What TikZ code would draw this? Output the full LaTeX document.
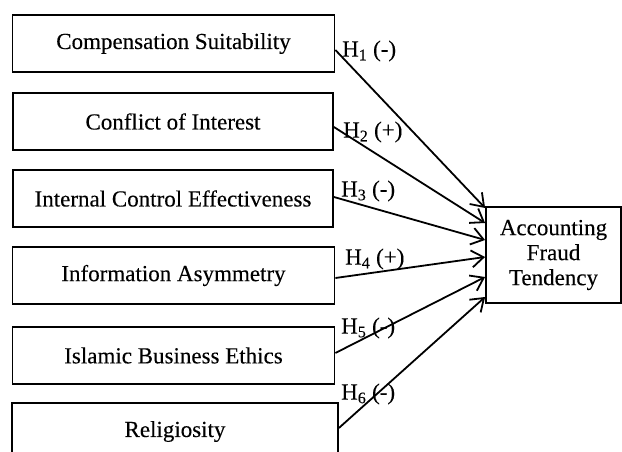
\documentclass[tikz,border=0pt]{standalone}
\usepackage{fontspec}
\setmainfont{Liberation Serif}[UprightFeatures={FakeBold=0.2}]
\usetikzlibrary{arrows.meta}
\begin{document}
\begin{tikzpicture}[x=1pt,y=-1pt,
  box/.style={draw,line width=1.8pt,inner sep=0pt,align=center,
    font=\fontsize{23}{25}\selectfont},
  lbox/.style={box,minimum width=322pt,minimum height=57pt},
  arr/.style={line width=1.8pt,-{Straight Barb[length=12pt,width=17pt,line width=1.8pt]}},
  hlab/.style={anchor=west,inner sep=0pt,font=\fontsize{23}{24}\selectfont}]
\useasboundingbox (0,0) rectangle (622,452);
\node[lbox] (c1) at (173.5,43.5) {Compensation Suitability};
\node[lbox,minimum width=320pt] (c2) at (173,121.5) {Conflict of Interest};
\node[lbox,minimum width=320pt] (c3) at (173,198.5) {Internal Control Effectiveness};
\node[lbox] (c4) at (173.5,275.5) {Information Asymmetry};
\node[lbox] (c5) at (173.5,355.5) {Islamic Business Ethics};
\node[lbox,minimum width=326pt] (c6) at (175,431.5) {Religiosity};
\node[box,minimum width=135pt,minimum height=96pt] (f) at (553.5,255) {\rule{0pt}{6pt}Accounting\\Fraud\\Tendency};
\draw[arr] ([yshift=-6.5pt]c1.east) -- ([yshift=47pt]f.west);
\draw[arr] ([yshift=-5.5pt]c2.east) -- ([yshift=32pt]f.west);
\draw[arr] ([yshift=1.5pt]c3.east) -- ([yshift=15pt]f.west);
\draw[arr] ([yshift=-2.5pt]c4.east) -- ([yshift=-2pt]f.west);
\draw[arr] ([yshift=2.5pt]c5.east) -- ([yshift=-22pt]f.west);
\draw[arr] ([yshift=3.5pt]c6.east) -- ([yshift=-42pt]f.west);
\node[hlab] (h1) at (342,51) {H\textsubscript{1} (-)};
\node[hlab] (h2) at (343,132) {H\textsubscript{2} (+)};
\node[hlab] (h3) at (341,191) {H\textsubscript{3} (-)};
\node[hlab] (h4) at (345,259) {H\textsubscript{4} (+)};
\node[hlab] (h5) at (341,328) {H\textsubscript{5} (-)};
\node[hlab] (h6) at (341,394) {H\textsubscript{6} (-)};
\end{tikzpicture}
\end{document}
